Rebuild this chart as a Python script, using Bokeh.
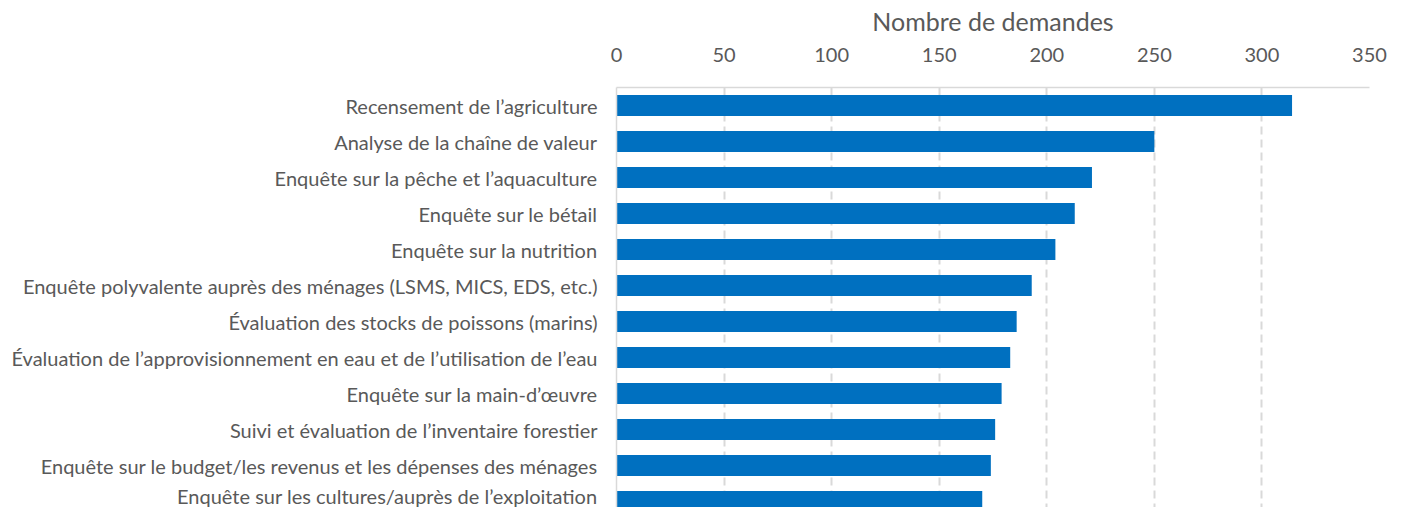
from bokeh.plotting import figure
from bokeh.models import Range1d, FixedTicker, LinearAxis, ColumnDataSource
from bokeh.embed import file_html
from bokeh.resources import INLINE

categories = [
    "Recensement de l’agriculture",
    "Analyse de la chaîne de valeur",
    "Enquête sur la pêche et l’aquaculture",
    "Enquête sur le bétail",
    "Enquête sur la nutrition",
    "Enquête polyvalente auprès des ménages (LSMS, MICS, EDS, etc.)",
    "Évaluation des stocks de poissons (marins)",
    "Évaluation de l’approvisionnement en eau et de l’utilisation de l’eau",
    "Enquête sur la main-d’œuvre",
    "Suivi et évaluation de l’inventaire forestier",
    "Enquête sur le budget/les revenus et les dépenses des ménages",
    "Enquête sur les cultures/auprès de l’exploitation",
]
values = [314, 250, 221, 213, 204, 193, 186, 183, 179, 176, 174, 170]
x_ticks = [0, 50, 100, 150, 200, 250, 300, 350]
axis_title = "Nombre de demandes"

FONT = "Lato"
TXT = "#595959"
GRID = "#d9d9d9"

pos = list(range(len(categories)))
src = ColumnDataSource(dict(y=pos, v=values))

H = 507
TOP = 87
p = figure(
    width=1395, height=H,
    x_range=Range1d(0, 350),
    y_range=Range1d(-0.5 + (H - TOP) / 36.0, -0.5),
    output_backend="svg", toolbar_location=None,
    x_axis_location=None, y_axis_location="left",
    min_border_left=616, min_border_top=TOP, min_border_bottom=0, min_border_right=26,
)
p.outline_line_color = None

p.hbar(y="y", left=0, right="v", height=0.58, source=src,
       fill_color="#0070C0", line_color=None)

xa = LinearAxis(ticker=FixedTicker(ticks=x_ticks), axis_label=axis_title)
xa.axis_line_color = GRID
xa.axis_line_width = 1.5
xa.major_tick_line_color = None
xa.minor_tick_line_color = None
xa.major_label_text_font = FONT
xa.major_label_text_font_size = "20px"
xa.major_label_text_color = TXT
xa.major_label_standoff = 20
xa.axis_label_text_font = FONT
xa.axis_label_text_font_size = "25px"
xa.axis_label_text_font_style = "normal"
xa.axis_label_text_color = TXT
xa.axis_label_standoff = 9
p.add_layout(xa, "above")

ya = p.yaxis[0]
ya.ticker = FixedTicker(ticks=pos)
ya.major_label_overrides = {i: c for i, c in zip(pos, categories)}
ya.axis_line_color = GRID
ya.axis_line_width = 1.5
ya.major_tick_line_color = None
ya.minor_tick_line_color = None
ya.major_label_text_font = FONT
ya.major_label_text_font_size = "20px"
ya.major_label_text_color = TXT
ya.major_label_standoff = 13

p.ygrid.grid_line_color = None
p.xgrid.ticker = FixedTicker(ticks=x_ticks[1:])
p.xgrid.grid_line_color = GRID
p.xgrid.grid_line_width = 2
p.xgrid.grid_line_dash = "8 5"

open("out.html", "w").write(file_html(p, INLINE))
